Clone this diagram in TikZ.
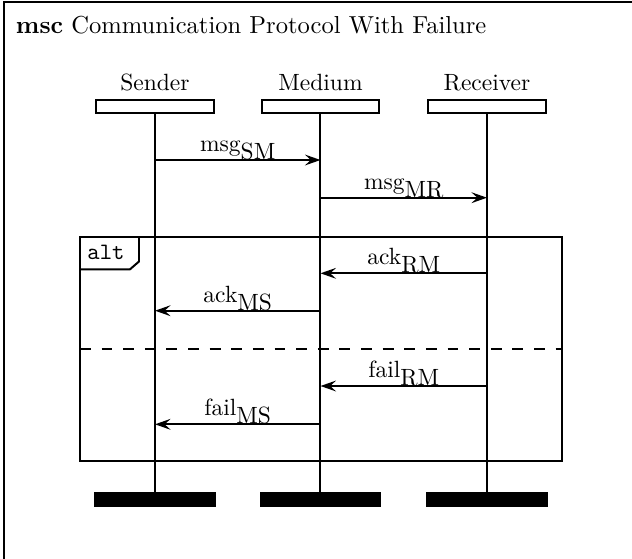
\documentclass[tikz,border=0pt]{standalone}
\usetikzlibrary{arrows.meta}
\begin{document}
\begin{tikzpicture}[x=0.4255pt,y=-0.4255pt,line width=0.85pt,
  headbox/.style={draw,rectangle,inner sep=0pt,minimum width=49.8pt,minimum height=5.2pt},
  endbar/.style={fill=black,draw=black,line width=0.3pt,rectangle,inner sep=0pt,minimum width=51.2pt,minimum height=6.2pt},
  iname/.style={anchor=base,inner sep=0pt},
  msgarrow/.style={-{Stealth[length=6.6pt,width=4.6pt,inset=2.5pt]}},
  msglabel/.style={anchor=base,inner sep=0pt}]
\useasboundingbox (0,0) rectangle (632,558);

% frame of the chart (continues past the page edges)
\draw (4,580) -- (4,2) -- (660,2);
\node[anchor=base west,inner sep=0pt,font=\fontsize{10.45pt}{12pt}\selectfont] (title) at (15,33) {\textbf{msc} Communication Protocol With Failure};

% instances
\node[iname] (nS) at (155,90) {Sender};
\node[iname] (nM) at (320.5,90) {Medium};
\node[iname] (nR) at (487,90) {Receiver};
\node[headbox] (hS) at (155,106.5) {};
\node[headbox] (hM) at (320.5,106.5) {};
\node[headbox] (hR) at (487,106.5) {};
\node[endbar] (eS) at (155,499.5) {};
\node[endbar] (eM) at (320.5,499.5) {};
\node[endbar] (eR) at (487,499.5) {};
\draw (hS.south) -- (eS.north);
\draw (hM.south) -- (eM.north);
\draw (hR.south) -- (eR.north);

% message end points on the lifelines
\coordinate (s1) at (155,160);   \coordinate (m1) at (320.5,160);
\coordinate (m2) at (320.5,197.7); \coordinate (r2) at (487,197.7);
\coordinate (r3) at (487,273.3); \coordinate (m3) at (320.5,273.3);
\coordinate (m4) at (320.5,310.7); \coordinate (s4) at (155,310.7);
\coordinate (r5) at (487,386);   \coordinate (m5) at (320.5,386);
\coordinate (m6) at (320.5,424.3); \coordinate (s6) at (155,424.3);

% alt inline expression
\draw (80,236.5) rectangle (562,461);
\draw (80,269.3) -- (130,269.3) -- (139,261.5) -- (139,236.5);
\node[anchor=base,inner sep=0pt,font=\ttfamily] (alt) at (106,259) {alt};
\coordinate (sepL) at (80,349);
\coordinate (sepR) at (562,349);
\draw[dash pattern=on 4.6pt off 4.6pt] (sepL) -- (sepR);

% messages
\draw[msgarrow] (s1) -- (m1);
\node[msglabel] (lSM) at (237.75,151.5) {msg\raisebox{-3.4pt}{SM}};
\draw[msgarrow] (m2) -- (r2);
\node[msglabel] (lMR) at (403.75,189.2) {msg\raisebox{-3.4pt}{MR}};
\draw[msgarrow] (r3) -- (m3);
\node[msglabel] (lRM) at (403.75,264.8) {ack\raisebox{-3.4pt}{RM}};
\draw[msgarrow] (m4) -- (s4);
\node[msglabel] (lMS) at (237.75,302.2) {ack\raisebox{-3.4pt}{MS}};
\draw[msgarrow] (r5) -- (m5);
\node[msglabel] (lfRM) at (403.75,377.5) {fail\raisebox{-3.4pt}{RM}};
\draw[msgarrow] (m6) -- (s6);
\node[msglabel] (lfMS) at (237.75,415.8) {fail\raisebox{-3.4pt}{MS}};
\end{tikzpicture}
\end{document}
